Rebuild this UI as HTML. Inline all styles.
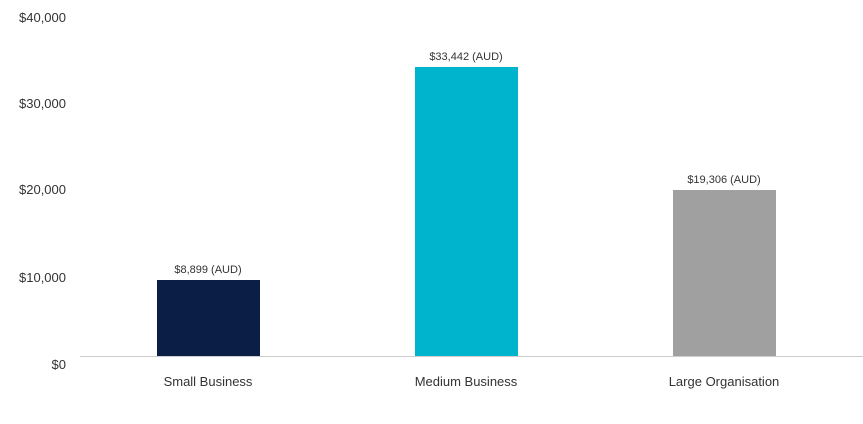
<!DOCTYPE html>
<html><head><style>
body{margin:0;width:863px;height:424px;background:#fff;font-family:"Liberation Sans",sans-serif;position:relative;overflow:hidden}
.t{position:absolute;font-size:13px;color:#333;white-space:nowrap}
.y{right:797px;text-align:right}
.b{position:absolute;width:103px;bottom:67px}
.v{position:absolute;font-size:11px;color:#333;width:160px;text-align:center}
.x{position:absolute;font-size:13px;color:#333;width:200px;text-align:center;top:374px}
</style></head><body>
<div class="t y" style="top:10px">$40,000</div>
<div class="t y" style="top:96px">$30,000</div>
<div class="t y" style="top:182px">$20,000</div>
<div class="t y" style="top:270px">$10,000</div>
<div class="t y" style="top:357px">$0</div>
<div style="position:absolute;left:80px;right:0;top:356px;height:1px;background:#ccc"></div>
<div class="b" style="left:157px;top:280px;height:76px;background:#0a1e46"></div>
<div class="b" style="left:415px;top:67px;height:289px;background:#00b4cd"></div>
<div class="b" style="left:673px;top:190px;height:166px;background:#a0a0a0"></div>
<div class="v" style="left:128px;top:264px">$8,899 (AUD)</div>
<div class="v" style="left:386px;top:51px">$33,442 (AUD)</div>
<div class="v" style="left:644px;top:174px">$19,306 (AUD)</div>
<div class="x" style="left:108px">Small Business</div>
<div class="x" style="left:366px">Medium Business</div>
<div class="x" style="left:624px">Large Organisation</div>
</body></html>
